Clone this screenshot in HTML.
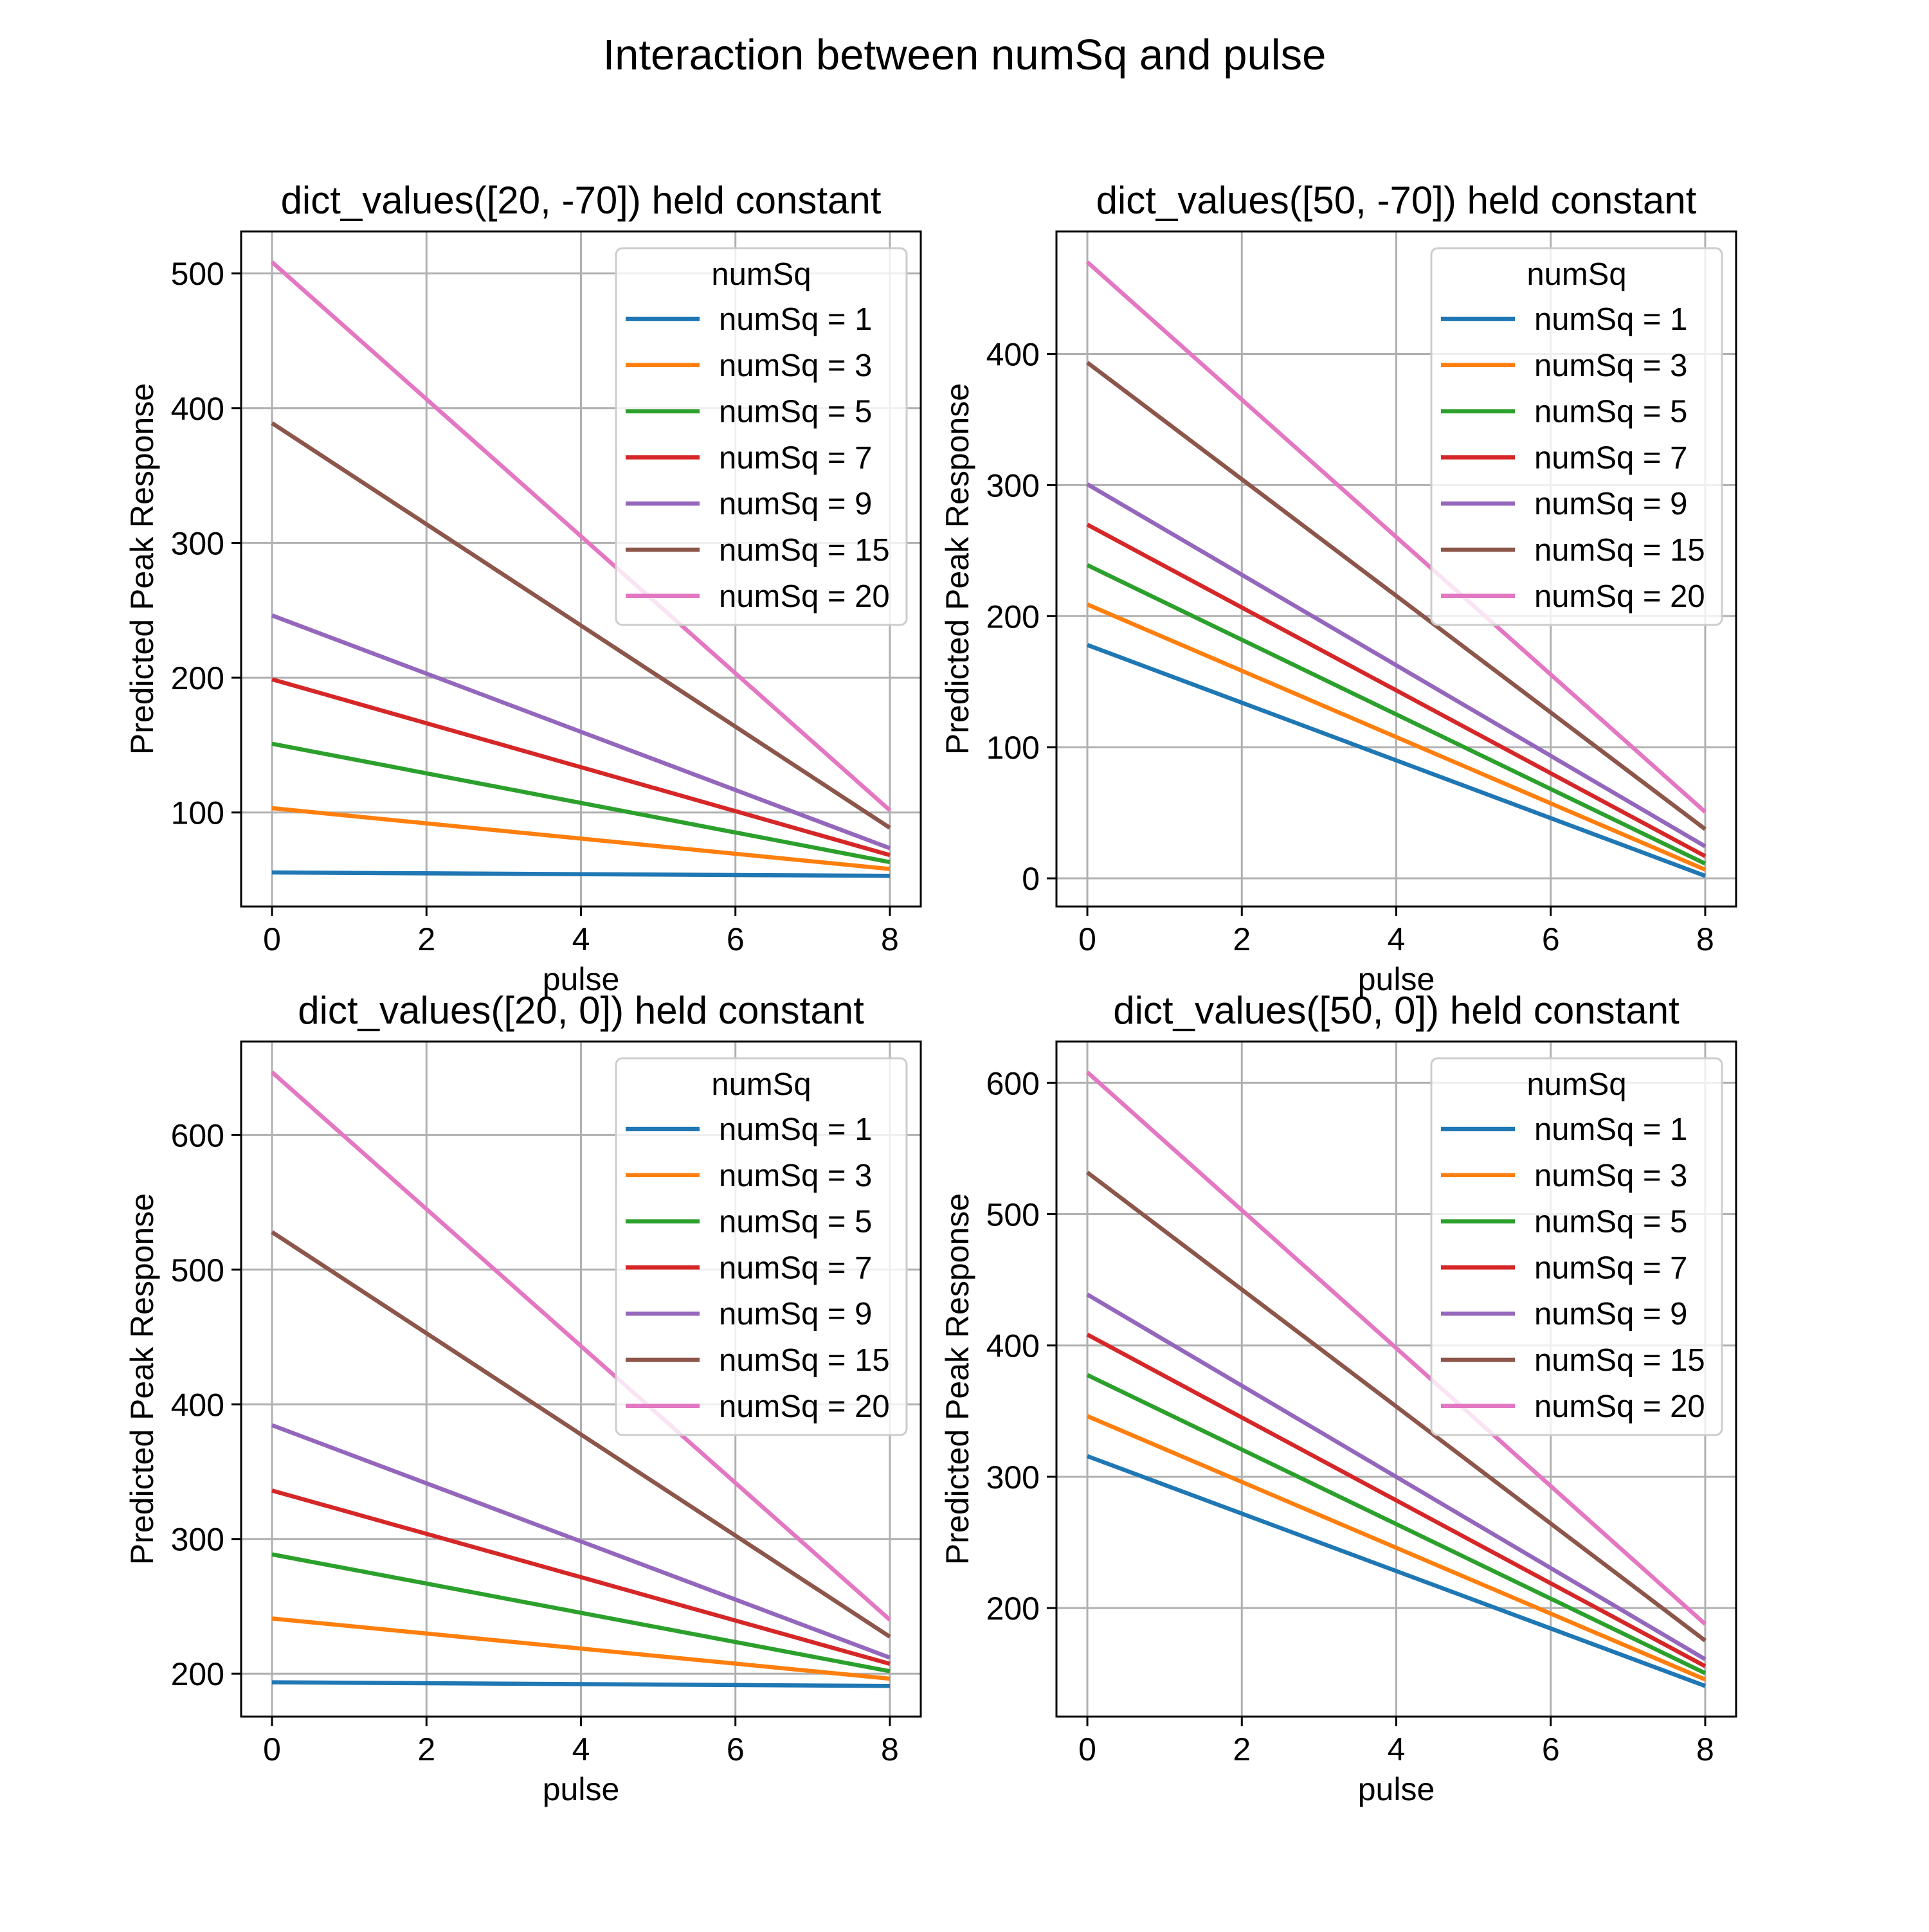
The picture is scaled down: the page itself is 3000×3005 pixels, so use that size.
<!DOCTYPE html>
<html><head><meta charset="utf-8">
<style>
html,body{margin:0;padding:0;background:#fff;}
svg text{font-family:"Liberation Sans",Arial,sans-serif;fill:#000;}
</style></head>
<body>
<svg id="chart" xmlns="http://www.w3.org/2000/svg" width="3000" height="3000" viewBox="0 0 3000 3000">
<rect width="3000" height="3000" fill="#fff"/>
<text x="1500" y="108" font-size="67" text-anchor="middle">Interaction between numSq and pulse</text>
</svg>
<script>
const seriesLabels = ["numSq = 1","numSq = 3","numSq = 5","numSq = 7","numSq = 9","numSq = 15","numSq = 20"];
const colors = ["#1f77b4","#ff7f0e","#2ca02c","#d62728","#9467bd","#8c564b","#e377c2"];
const xTicks = [0,2,4,6,8];
const panelTitles = ["dict_values([20, -70]) held constant","dict_values([50, -70]) held constant","dict_values([20, 0]) held constant","dict_values([50, 0]) held constant"];
const startVals = [
  [55.5,103.2,151,198.8,246.2,388.9,508.3],
  [178,208.9,238.9,269.8,300.6,393.4,470],
  [193.6,241,288.6,336,384.5,527.9,646.6],
  [315.7,346.2,377.5,408.3,438.8,531.8,608.1]
];
const endVals = [
  [53,58.1,63.2,68.4,73.5,88.6,101.6],
  [1.9,6.6,11.2,16.9,24.4,37.5,50.6],
  [190.9,196.3,201.8,207.3,211.9,227.4,240],
  [140.7,145.6,150.4,155.7,161,175.2,187.8]
];
const yTicksList = [[100,200,300,400,500],[0,100,200,300,400],[200,300,400,500,600],[200,300,400,500,600]];
const xStart = 0, xEnd = 8;

const svg = document.getElementById('chart');
const NS = "http://www.w3.org/2000/svg";
function mk(tag, attrs){const e=document.createElementNS(NS,tag);for(const k in attrs)e.setAttribute(k,attrs[k]);return e;}

const boxes = [[375,360],[1643,360],[375,1620],[1643,1620]];
const W = 1057, H = 1050;

boxes.forEach((b,p)=>{
  const [L,T]=b;
  const g = mk('g',{});
  
  
  svg.appendChild(g);
  const all = startVals[p].concat(endVals[p]);
  const mn = Math.min(...all), mx = Math.max(...all), r = mx-mn;
  const y0 = mn-0.05*r, y1 = mx+0.05*r;
  const x0 = xStart-0.05*(xEnd-xStart), x1 = xEnd+0.05*(xEnd-xStart);
  const X = v => L + (v-x0)/(x1-x0)*W;
  const Y = v => T + H - (v-y0)/(y1-y0)*H;
  xTicks.forEach(t=>{
    const l=mk('line',{x1:X(t),x2:X(t),y1:T,y2:T+H,stroke:'#b0b0b0','stroke-width':3});
    
    
    g.appendChild(l);
    const tk=mk('line',{x1:X(t),x2:X(t),y1:T+H,y2:T+H+15,stroke:'#000','stroke-width':3});
    
    
    g.appendChild(tk);
    const tx=mk('text',{x:X(t),y:T+H+68,'font-size':50,'text-anchor':'middle'});
    tx.textContent=t;
    
    
    g.appendChild(tx);
  });
  yTicksList[p].forEach(t=>{
    const l=mk('line',{x1:L,x2:L+W,y1:Y(t),y2:Y(t),stroke:'#b0b0b0','stroke-width':3});
    
    
    g.appendChild(l);
    const tk=mk('line',{x1:L-15,x2:L,y1:Y(t),y2:Y(t),stroke:'#000','stroke-width':3});
    
    
    g.appendChild(tk);
    const tx=mk('text',{x:L-26,y:Y(t)+18,'font-size':50,'text-anchor':'end'});
    tx.textContent=t;
    
    
    g.appendChild(tx);
  });
  seriesLabels.forEach((s,i)=>{
    const l=mk('line',{x1:X(xStart),y1:Y(startVals[p][i]),x2:X(xEnd),y2:Y(endVals[p][i]),stroke:colors[i],'stroke-width':6.5});
    
    
    g.appendChild(l);
  });
  const fr=mk('rect',{x:L,y:T,width:W,height:H,fill:'none',stroke:'#000','stroke-width':3});
  
  
  g.appendChild(fr);
  const tt=mk('text',{x:L+W/2,y:T-28,'font-size':60,'text-anchor':'middle'});
  tt.textContent=panelTitles[p];
  
  
  g.appendChild(tt);
  const xl=mk('text',{x:L+W/2,y:T+H+130,'font-size':50,'text-anchor':'middle'});
  xl.textContent='pulse';
  
  
  g.appendChild(xl);
  const cy=T+H/2, lx=L-155;
  const yl=mk('text',{x:lx,y:cy,'font-size':50,'text-anchor':'middle',transform:`rotate(-90 ${lx} ${cy})`,dy:18});
  yl.textContent='Predicted Peak Response';
  
  
  g.appendChild(yl);
  const lg=mk('g',{});
  
  
  g.appendChild(lg);
  const LR=L+W-22, LT=T+26, LW=452, LH=586;
  const bx=mk('rect',{x:LR-LW,y:LT,width:LW,height:LH,rx:10,fill:'#fff','fill-opacity':0.8,stroke:'#cccccc','stroke-width':3});
  
  
  lg.appendChild(bx);
  const lt=mk('text',{x:LR-LW/2,y:LT+57,'font-size':49,'text-anchor':'middle'});
  lt.textContent='numSq';
  
  
  lg.appendChild(lt);
  seriesLabels.forEach((s,i)=>{
    const yy=LT+110+i*71.8;
    const hl=mk('line',{x1:LR-LW+15,x2:LR-LW+130,y1:yy,y2:yy,stroke:colors[i],'stroke-width':6.5});
    
    
    lg.appendChild(hl);
    const et=mk('text',{x:LR-LW+160,y:yy+17,'font-size':49});
    et.textContent=s;
    
    
    lg.appendChild(et);
  });
});
</script>
</body></html>
